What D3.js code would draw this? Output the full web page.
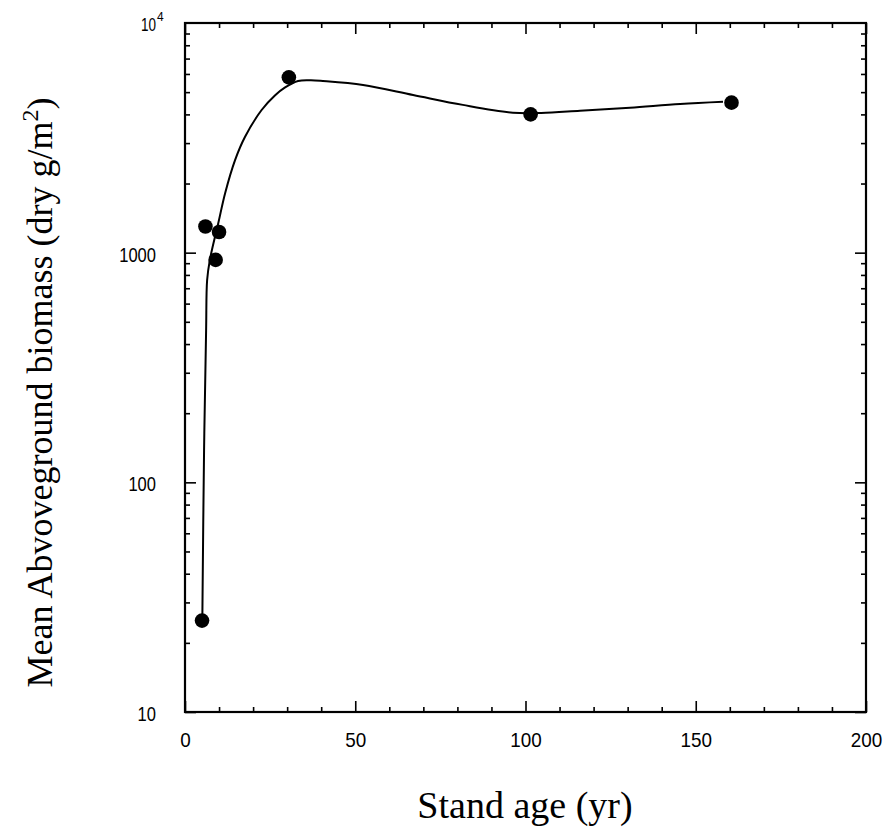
<!DOCTYPE html>
<html>
<head>
<meta charset="utf-8">
<script src="https://cdn.jsdelivr.net/npm/d3@7"></script>
<style>
  body { margin: 0; background: #fff; }
  .tick text { font-family: "Liberation Sans", Arial, sans-serif; font-size: 21px; fill: #000; }
  .domain { display: none; }
  .tick line { stroke: #000; stroke-width: 1.6; }
</style>
</head>
<body>
<div id="chart"></div>
<script>
// measured points
const ageYr = [5, 6, 9, 10, 30.5, 101.5, 160.5];
const biomass = [25, 1300, 930, 1230, 5800, 4000, 4500];

// fitted curve
const fitAge = [5.1, 5.6, 6.2, 6.5, 7.3, 9.8, 11.8, 14.7, 17.6, 22.5, 26.4, 29.4, 33.2, 37, 40.5, 52.3, 67, 81.6, 96.3, 104.6, 116, 130.7, 145.4, 158];
const fitBiomass = [26, 138, 460, 760, 930, 1350, 1820, 2530, 3190, 4180, 4835, 5240, 5590, 5630, 5590, 5370, 4860, 4400, 4070, 4060, 4150, 4280, 4440, 4540];

const xMajor = [0, 50, 100, 150, 200];
const xMinor = [10, 20, 30, 40, 60, 70, 80, 90, 110, 120, 130, 140, 160, 170, 180, 190];
const yMajor = [10, 100, 1000];

const width = 886, height = 838;
const mLeft = 185, mRight = 866, mTop = 23, mBottom = 712;

const svg = d3.select("#chart").append("svg")
    .attr("width", width)
    .attr("height", height);

const x = d3.scaleLinear().domain([0, 200]).range([mLeft, mRight]);
const y = d3.scaleLog().domain([10, 10000]).range([mBottom, mTop]);

// minor y ticks: 2..9 of each decade
const yMinor = [];
[10, 100, 1000].forEach(d => { for (let k = 2; k <= 9; k++) yMinor.push(d * k); });

// narrow the tick labels like the original's condensed face
function squeeze(sel, perDigit) {
    sel.attr("textLength", function () { return this.textContent.length * perDigit; })
        .attr("lengthAdjust", "spacingAndGlyphs");
}

// bottom axis with labels
svg.append("g")
    .attr("transform", `translate(0,${mBottom})`)
    .call(d3.axisBottom(x).tickValues(xMajor).tickSize(-11).tickPadding(31))
    .selectAll(".tick text").attr("dy", "0.2em").call(squeeze, 10.5);
svg.append("g")
    .attr("transform", `translate(0,${mBottom})`)
    .call(d3.axisBottom(x).tickValues(xMinor).tickSize(-5).tickFormat(""));

// top axis ticks only
svg.append("g")
    .attr("transform", `translate(0,${mTop})`)
    .call(d3.axisTop(x).tickValues(xMajor).tickSize(-11).tickFormat(""));
svg.append("g")
    .attr("transform", `translate(0,${mTop})`)
    .call(d3.axisTop(x).tickValues(xMinor).tickSize(-5).tickFormat(""));

// left axis with labels
svg.append("g")
    .attr("transform", `translate(${mLeft},0)`)
    .call(d3.axisLeft(y).tickValues(yMajor).tickSize(-11).tickPadding(29).tickFormat(d3.format("d")))
    .selectAll(".tick text").attr("dy", "0.4em").call(squeeze, 9.2);
svg.append("g")
    .attr("transform", `translate(${mLeft},0)`)
    .call(d3.axisLeft(y).tickValues(yMinor).tickSize(-5).tickFormat(""));

// right axis ticks only
svg.append("g")
    .attr("transform", `translate(${mRight},0)`)
    .call(d3.axisRight(y).tickValues(yMajor).tickSize(-11).tickFormat(""));
svg.append("g")
    .attr("transform", `translate(${mRight},0)`)
    .call(d3.axisRight(y).tickValues(yMinor).tickSize(-5).tickFormat(""));

// 10^4 label as one text
const lab4 = svg.append("text")
    .attr("x", 141).attr("y", y(10000) + 8)
    .style("font-family", '"Liberation Sans", Arial, sans-serif')
    .style("font-size", "19px");
lab4.append("tspan")
    .attr("textLength", 15).attr("lengthAdjust", "spacingAndGlyphs")
    .text("10");
lab4.append("tspan")
    .attr("dx", 1).attr("dy", -10)
    .style("font-size", "12px")
    .text("4");

// frame
svg.append("rect")
    .attr("x", mLeft).attr("y", mTop)
    .attr("width", mRight - mLeft).attr("height", mBottom - mTop)
    .attr("fill", "none").attr("stroke", "#000").attr("stroke-width", 2.2);

// fitted curve
const fit = fitAge.map((a, i) => [a, fitBiomass[i]]);
svg.append("path")
    .datum(fit)
    .attr("fill", "none")
    .attr("stroke", "#000")
    .attr("stroke-width", 2)
    .attr("d", d3.line().x(d => x(d[0])).y(d => y(d[1])).curve(d3.curveCatmullRom.alpha(0.5)));

// points
svg.selectAll("circle.pt")
    .data(ageYr.map((a, i) => [a, biomass[i]]))
    .enter().append("circle")
    .attr("class", "pt")
    .attr("cx", d => x(d[0]))
    .attr("cy", d => y(d[1]))
    .attr("r", 7.3)
    .attr("fill", "#000");

// axis titles
svg.append("text")
    .attr("x", 525).attr("y", 818)
    .attr("text-anchor", "middle")
    .style("font-family", '"Liberation Serif", "Times New Roman", serif')
    .style("font-size", "38px")
    .text("Stand age (yr)");

const yt = svg.append("text")
    .attr("transform", `translate(52,${(mTop + mBottom) / 2 + 25}) rotate(-90)`)
    .attr("text-anchor", "middle")
    .style("font-family", '"Liberation Serif", "Times New Roman", serif')
    .style("font-size", "36px");
yt.append("tspan").text("Mean Abvoveground biomass (dry g/m");
yt.append("tspan").attr("dy", -14).style("font-size", "24px").text("2");
yt.append("tspan").attr("dy", 14).text(")");
</script>
</body>
</html>
